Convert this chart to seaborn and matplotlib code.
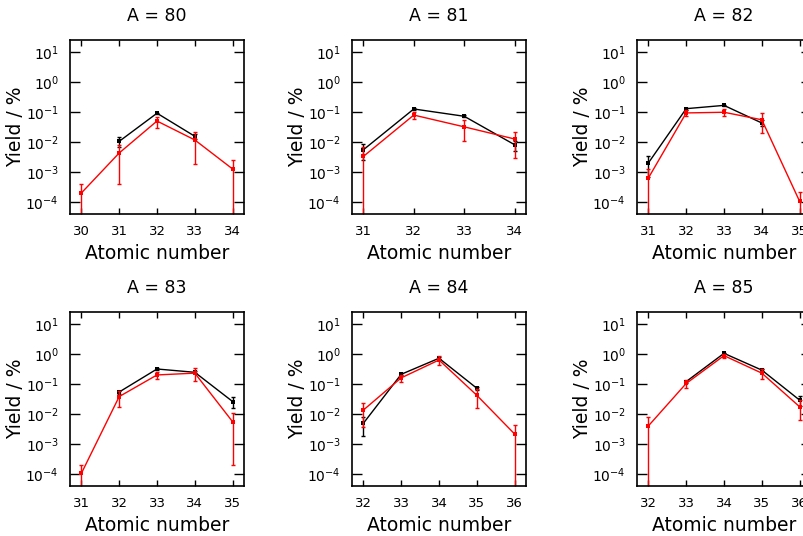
import matplotlib
matplotlib.use("Agg")
import matplotlib.pyplot as plt
import seaborn as sns
import pandas as pd

# Mass chains, one panel each
mass_numbers = [80, 81, 82, 83, 84, 85]

# Black series (reference yields)
black_z = [[31, 32, 33], [31, 32, 33, 34], [31, 32, 33, 34],
           [32, 33, 34, 35], [32, 33, 34, 35], [33, 34, 35, 36]]
black_y = [[0.0105, 0.091, 0.0155],
           [5.5e-3, 0.126, 0.072, 8.1e-3],
           [2.0e-3, 0.129, 0.166, 0.043],
           [0.054, 0.316, 0.245, 0.026],
           [4.9e-3, 0.21, 0.72, 0.072],
           [0.12, 1.05, 0.29, 0.029]]
black_err = [[0.0038, 0.005, 0.0027],
             [3e-3, 0.008, 0.006, 0.003],
             [1.3e-3, 0.01, 0.01, 0.01],
             [0.006, 0.02, 0.02, 0.01],
             [3e-3, 0.015, 0.05, 0.01],
             [0.01, 0.05, 0.02, 0.01]]

# Red series (measured yields)
red_z = [[30, 31, 32, 33, 34], [31, 32, 33, 34], [31, 32, 33, 34, 35],
         [31, 32, 33, 34, 35], [32, 33, 34, 35, 36], [32, 33, 34, 35, 36]]
red_y = [[2.0e-4, 4.3e-3, 0.050, 0.0117, 1.26e-3],
         [3.3e-3, 0.079, 0.032, 0.0126],
         [6.3e-4, 0.093, 0.098, 0.055, 1.05e-4],
         [1.05e-4, 0.038, 0.2, 0.23, 5.5e-3],
         [0.0135, 0.16, 0.63, 0.042, 2.15e-3],
         [4e-3, 0.104, 0.88, 0.23, 0.0174]]
red_err = [[2.1e-4, 3.9e-3, 0.02, 0.0098, 1.3e-3],
           [3.4e-3, 0.02, 0.021, 0.0097],
           [6.5e-4, 0.02, 0.025, 0.035, 1.1e-4],
           [1e-4, 0.021, 0.05, 0.1, 5.3e-3],
           [0.0098, 0.04, 0.2, 0.026, 2.2e-3],
           [4.1e-3, 0.03, 0.15, 0.08, 0.011]]

y_ticks = [1e-4, 1e-3, 1e-2, 1e-1, 1e0, 1e1]
y_tick_labels = [r"$10^{-4}$", r"$10^{-3}$", r"$10^{-2}$", r"$10^{-1}$", r"$10^{0}$", r"$10^{1}$"]

sns.set_style("ticks")
plt.rcParams['font.family'] = ['DejaVu Sans']
plt.rcParams['text.color'] = 'black'
plt.rcParams['axes.labelcolor'] = 'black'
plt.rcParams['xtick.color'] = 'black'
plt.rcParams['ytick.color'] = 'black'

W, H = 804, 536
fig = plt.figure(figsize=(W / 100, H / 100), dpi=100)

# panel boxes in pixels: left, top, width, height
col_left = [70, 352, 637]
row_top = [40, 312]
box_w, box_h = 174, 174

for i, a in enumerate(mass_numbers):
    r, c = divmod(i, 3)
    ax = fig.add_axes([col_left[c] / W, 1 - (row_top[r] + box_h) / H, box_w / W, box_h / H])
    ax.set_yscale("log")

    for zs, ys, es, col in [(black_z[i], black_y[i], black_err[i], "black"),
                            (red_z[i], red_y[i], red_err[i], "red")]:
        df = pd.DataFrame({"z": zs, "y": ys})
        ax.errorbar(zs, ys, yerr=es, fmt="none", ecolor=col, elinewidth=1.0,
                    capsize=1.5, capthick=1.0)
        sns.lineplot(data=df, x="z", y="y", ax=ax, color=col, lw=1.0,
                     marker="s", markersize=2.5, markeredgewidth=0, legend=False)

    ax.set_ylim(4e-5, 25)
    ax.margins(x=0.075)
    zmin = min(min(black_z[i]), min(red_z[i]))
    zmax = max(max(black_z[i]), max(red_z[i]))
    ax.set_xticks(range(zmin, zmax + 1))
    ax.set_yticks(y_ticks)
    ax.set_yticklabels(y_tick_labels)
    ax.minorticks_off()
    ax.tick_params(axis="x", direction="in", length=4, width=1, top=True,
                   labelsize=9.5, pad=8)
    ax.tick_params(axis="y", direction="in", length=7, width=1, right=True,
                   labelsize=10, pad=8)
    for s in ax.spines.values():
        s.set_linewidth(1.2)
        s.set_color("black")

    ax.set_title(f"A = {a}", fontsize=12.5, pad=14)
    ax.set_xlabel("Atomic number", fontsize=13.5, labelpad=4)
    ax.set_ylabel("Yield / %", fontsize=13.5, labelpad=0)

fig.savefig("out.png", dpi=100)
